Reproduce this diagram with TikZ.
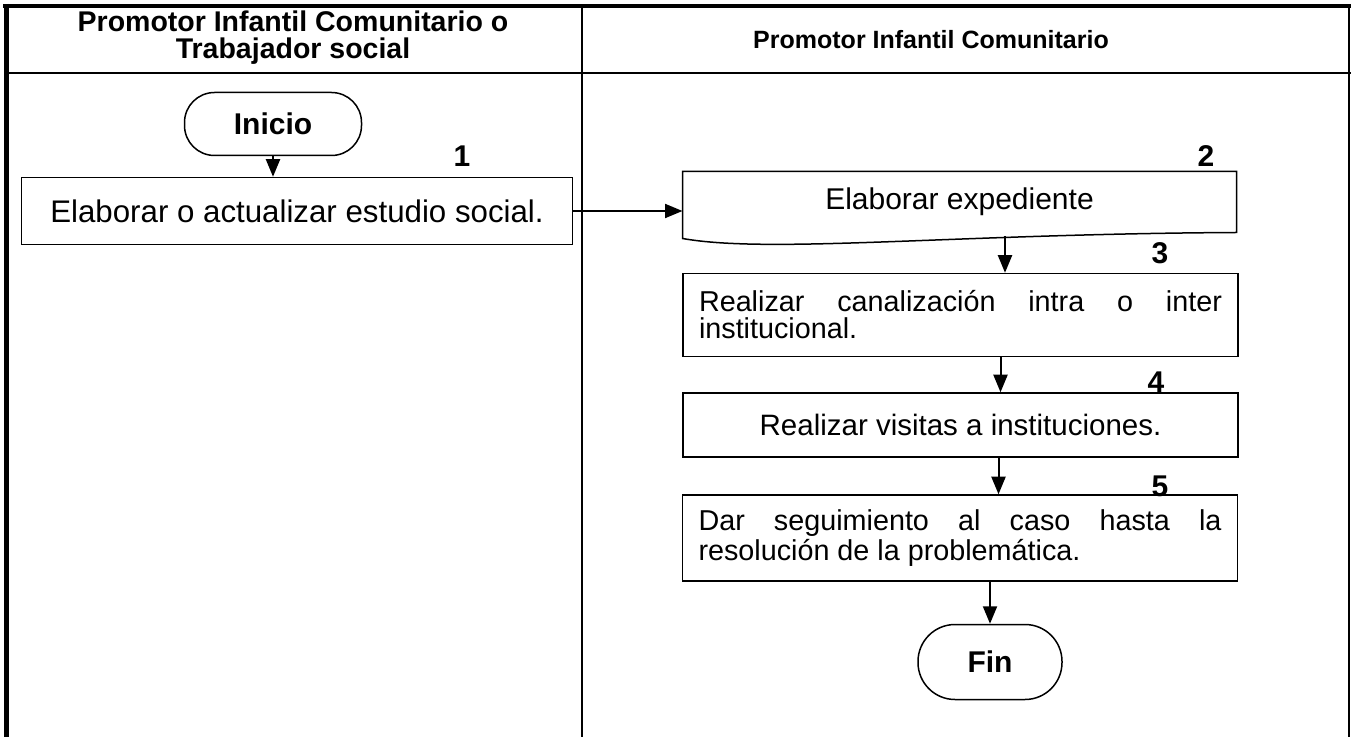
\documentclass[tikz,border=0pt]{standalone}
\usepackage{fontspec}
\setmainfont{Liberation Sans}
\usetikzlibrary{arrows.meta,positioning}
\newdimen\px
\px=0.4pt

\begin{document}
\begin{tikzpicture}[x=0.4pt, y=-0.4pt, >={Triangle[length=7pt, width=5.6pt]},
    box/.style={rectangle, draw, line width=0.6pt, minimum width=555\px, minimum height=64\px, inner xsep=16\px, font=\fontsize{11.5}{10.8}\selectfont},
    term/.style={rectangle, draw, line width=0.6pt, rounded corners=30\px, minimum height=63\px, font=\fontsize{12}{14}\selectfont\bfseries},
    num/.style={inner sep=0pt, font=\fontsize{12}{14}\selectfont\bfseries},
    head/.style={align=center, inner sep=0pt},
    flow/.style={->, line width=0.8pt}]
    \useasboundingbox (0,0) rectangle (1351,737);

    % table
    \draw[line width=1.6pt] (3,6) -- (1351,6);
    \draw[line width=2pt] (6,4) -- (6,737);
    \draw[line width=0.9pt] (1349,6) -- (1349,737);
    \draw[line width=0.9pt] (5,73) -- (1351,73);
    \draw[line width=0.8pt] (582,6) -- (582,737);

    \node[head, font=\fontsize{11.4}{10.8}\selectfont\bfseries] (laneA) at (293,38) {Promotor Infantil Comunitario o\\Trabajador social};
    \node[head, font=\fontsize{10}{12}\selectfont\bfseries] (laneB) at (931,40) {Promotor Infantil Comunitario};

    % steps
    \node[term, minimum width=177\px] (inicio) at (273,124) {Inicio};
    \node[box, minimum width=551\px, minimum height=67\px, font=\fontsize{12.5}{14}\selectfont] (n1) at (297,211) {Elaborar o actualizar estudio social.};
    \node[minimum width=553\px, minimum height=60\px, inner sep=0pt, font=\fontsize{12}{14}\selectfont] (n2) at (959.5,202) {Elaborar expediente};
    \draw[line width=0.6pt] (n2.south west) -- (n2.north west) -- (n2.north east) -- (n2.south east)
        .. controls (950,234) and (770,254) .. ([yshift=-6\px]n2.south west) -- cycle;
    \node[box, text width=523\px, align=justify, minimum height=83\px] (n3) at (960.5,315) {Realizar canalización intra o inter\linebreak institucional.};
    \node[box, align=center, font=\fontsize{11.8}{14}\selectfont] (n4) at (960.5,425) {Realizar visitas a instituciones.};
    \node[box, text width=523\px, align=justify, minimum height=86\px] (n5) at (960,538) {Dar seguimiento al caso hasta la\linebreak resolución de la problemática.};
    \node[term, minimum width=144\px, minimum height=75\px, rounded corners=37\px] (fin) at (990,662) {Fin};

    % numbers
    \node[num] (k1) at (462,156) {1};
    \node[num] (k2) at (1206,156) {2};
    \node[num] (k3) at (1160,253) {3};
    \node[num] (k4) at (1156,382) {4};
    \node[num] (k5) at (1160,486) {5};

    % arrows
    \coordinate (a2) at (1005,236);
    \coordinate (a3) at ([xshift=40\px]n3.south);
    \coordinate (a4) at ([xshift=38\px]n4.south);
    \draw[flow] (inicio.south) -- (inicio.south |- n1.north);
    \draw[flow] (n1.east) -- (n1.east -| n2.west);
    \draw[flow] (a2) -- (a2 |- n3.north);
    \draw[flow] (a3) -- (a3 |- n4.north);
    \draw[flow] (a4) -- (a4 |- n5.north);
    \draw[flow] (fin.north |- n5.south) -- (fin.north);
\end{tikzpicture}
\end{document}
